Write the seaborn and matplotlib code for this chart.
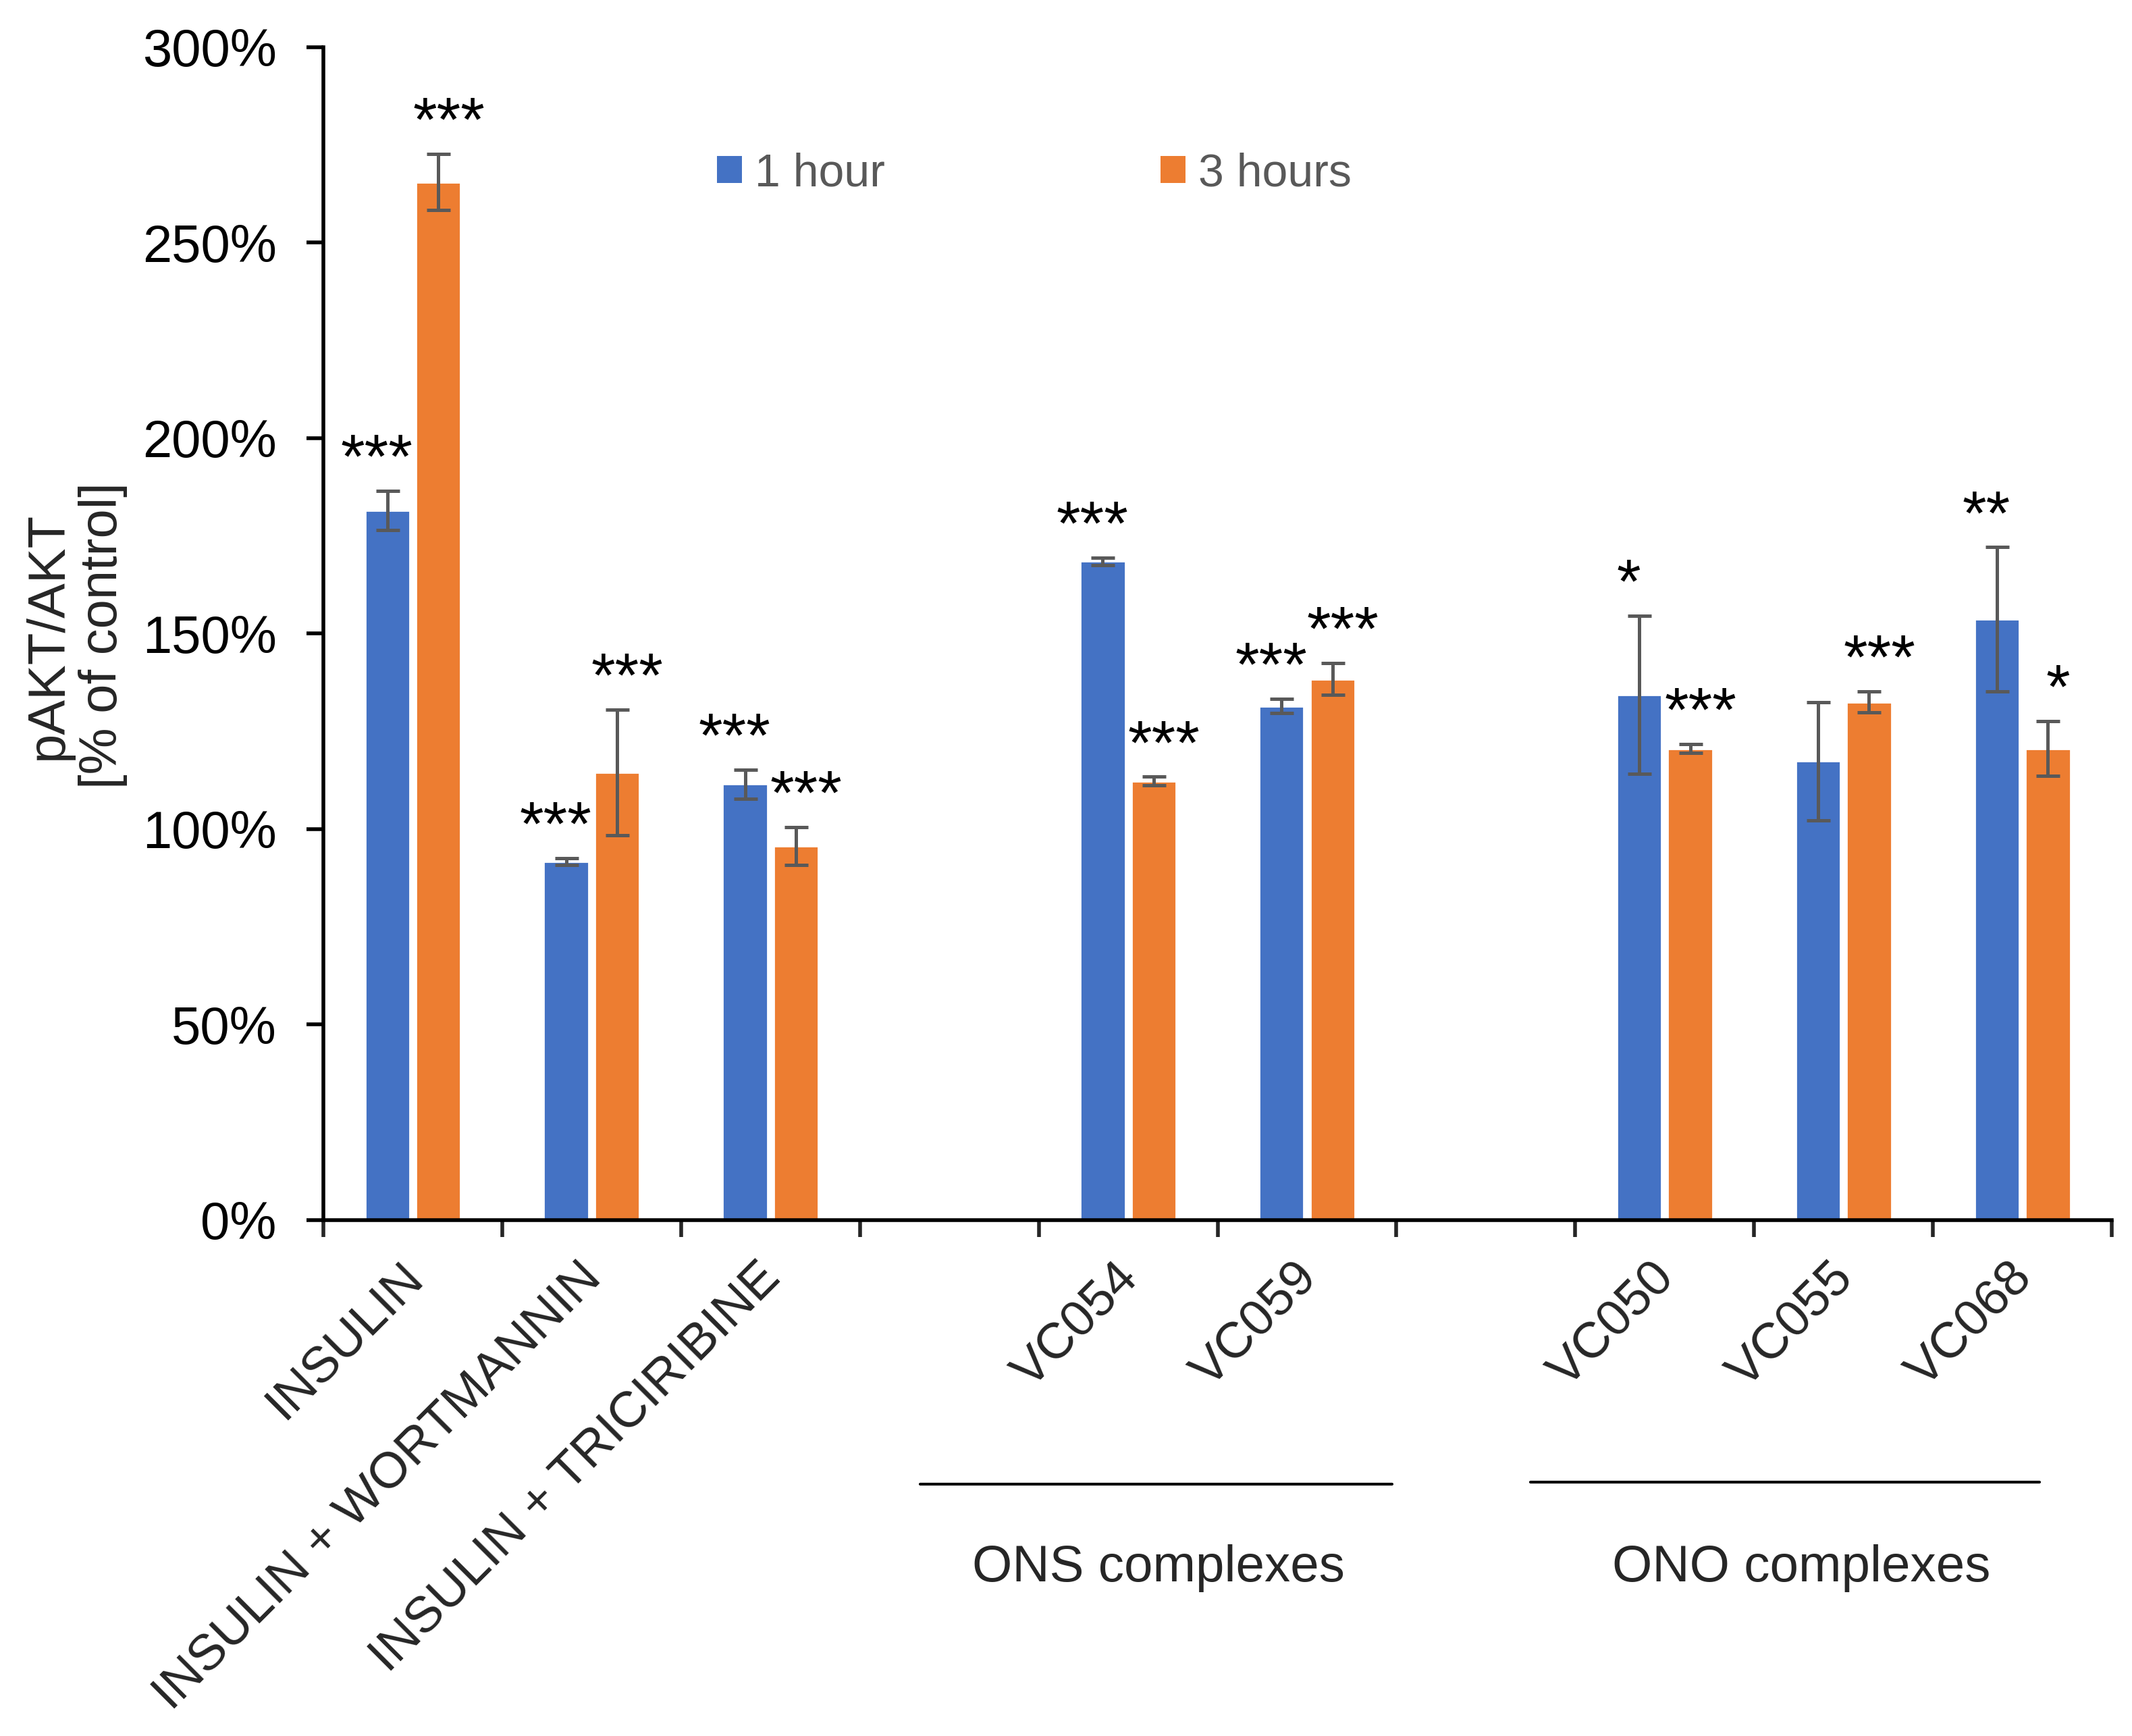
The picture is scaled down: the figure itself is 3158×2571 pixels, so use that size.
import numpy as np
import pandas as pd
import seaborn as sns
import matplotlib.pyplot as plt
from matplotlib.patches import Patch
from matplotlib.ticker import FuncFormatter

# slots on the x axis, empty strings are the gaps between the groups
slots = ["INSULIN", "INSULIN + WORTMANNIN", "INSULIN + TRICIRIBINE", "",
         "VC054", "VC059", " ", "VC050", "VC055", "VC068"]
treatments = ["INSULIN", "INSULIN + WORTMANNIN", "INSULIN + TRICIRIBINE",
              "VC054", "VC059", "VC050", "VC055", "VC068"]
times = ["1 hour", "3 hours"]

# pAKT/AKT in % of control
mean_1h = [181.5, 91.7, 111.5, 168.5, 131.5, 134.4, 117.4, 153.7]
mean_3h = [265.5, 114.5, 95.7, 112.3, 138.4, 120.6, 132.5, 120.6]
err_1h = [5.0, 0.9, 3.7, 1.0, 1.8, 20.2, 15.1, 18.4]
err_3h = [7.2, 16.1, 4.8, 1.1, 4.1, 1.1, 2.7, 7.0]
stars_1h = ["***", "***", "***", "***", "***", "*", "", "**"]
stars_3h = ["***", "***", "***", "***", "***", "***", "***", "*"]

colors = ["#4472C4", "#ED7D31"]

df = pd.DataFrame({
    "treatment": treatments * 2,
    "time": [times[0]] * len(treatments) + [times[1]] * len(treatments),
    "value": mean_1h + mean_3h,
    "err": err_1h + err_3h,
    "stars": stars_1h + stars_3h,
})

sns.set_style("white")
plt.rcParams["font.family"] = ["Liberation Sans", "DejaVu Sans"]

fig = plt.figure(figsize=(15.79, 12.855), dpi=200)
ax = fig.add_axes([0.1517, 0.2972, 0.8388, 0.6756])

sns.barplot(data=df, x="treatment", y="value", hue="time", order=slots,
            hue_order=times, palette=colors, saturation=1, width=0.57,
            gap=0.12, errorbar=None, legend=False, ax=ax)

# error bars and significance stars on top of each bar
# (stars of the 1 hour bars sit a bit left, those of 3 hours a bit right)
star_shift = {times[0]: -5.5, times[1]: 5.5}
for level, cont in zip(times, ax.containers):
    sub = df[df["time"] == level]
    for patch in cont:
        xc = patch.get_x() + patch.get_width() / 2
        name = slots[int(round(xc))]
        row = sub[sub["treatment"] == name].iloc[0]
        top = row["value"] + row["err"]
        ax.errorbar(xc, row["value"], yerr=row["err"], fmt="none",
                    ecolor="#595959", elinewidth=1.8, capsize=6.3,
                    capthick=1.8, zorder=3)
        if row["stars"]:
            ax.annotate(row["stars"], (xc, top),
                        xytext=(star_shift[level], 7),
                        textcoords="offset points", ha="center",
                        va="baseline", fontsize=33, color="black")

ax.set_xlim(-0.5, len(slots) - 0.5)
ax.set_ylim(0, 300)
ax.set_yticks(np.arange(0, 301, 50))
ax.yaxis.set_major_formatter(FuncFormatter(lambda v, p: f"{v:.0f}%"))
ax.tick_params(axis="y", direction="out", length=9, width=2, pad=16,
               labelsize=28, left=True, colors="black")

# ticks between categories, labels at the centres
ax.set_xticks(np.arange(-0.5, len(slots)), [""] * (len(slots) + 1))
ax.set_xticks(np.arange(len(slots)) - 0.08, slots, minor=True)
ax.tick_params(axis="x", which="major", direction="out", length=9, width=2,
               bottom=True)
ax.tick_params(axis="x", which="minor", length=0, pad=18, labelsize=27,
               bottom=True)
for lab in ax.get_xticklabels(minor=True):
    lab.set_rotation(45)
    lab.set_ha("right")
    lab.set_va("top")
    lab.set_rotation_mode("anchor")

ax.set_xlabel("")
ax.set_ylabel("")
sns.despine(ax=ax)
for side in ["left", "bottom"]:
    ax.spines[side].set_linewidth(2)
    ax.spines[side].set_color("black")

fig.text(112 / 3158, 1 - 941 / 2571, "pAKT/AKT\n[% of control]",
         rotation=90, ha="center", va="center", multialignment="center",
         fontsize=28, linespacing=1.15)

# group brackets below the labels
tr = ax.get_xaxis_transform()
ax.plot([2.836, 5.474], [-0.225, -0.225], color="black", lw=1.5,
        transform=tr, clip_on=False)
ax.plot([6.251, 9.096], [-0.2234, -0.2234], color="black", lw=1.5,
        transform=tr, clip_on=False)
ax.text(4.168, -0.308, "ONS complexes", transform=tr, ha="center",
        va="baseline", fontsize=27.5)
ax.text(7.764, -0.308, "ONO complexes", transform=tr, ha="center",
        va="baseline", fontsize=27.5)

handles = [Patch(facecolor=c, edgecolor="none", label=t)
           for c, t in zip(colors, times)]
leg = fig.legend(handles=handles, loc="center left", ncol=2, frameon=False,
                 bbox_to_anchor=(1062 / 3158, 1 - 257 / 2571), borderpad=0,
                 fontsize=24.5, handlelength=0.54, handleheight=0.54,
                 handletextpad=0.28, columnspacing=6.0, borderaxespad=0)
for t in leg.get_texts():
    t.set_color("#595959")

fig.savefig("out.png", dpi=200)
